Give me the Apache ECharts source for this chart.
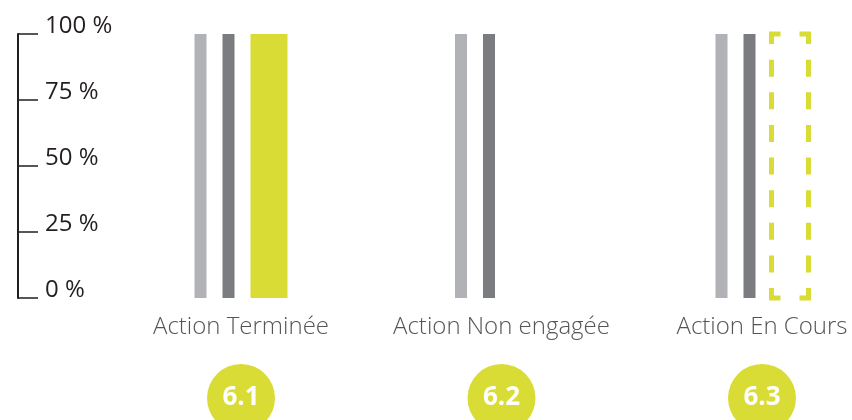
<!DOCTYPE html>
<html>
<head>
<meta charset="utf-8">
<script src="https://cdn.jsdelivr.net/npm/echarts@6/dist/echarts.min.js"></script>
<style>
html,body{margin:0;padding:0;background:#fff;}
#chart{width:852px;height:420px;}
</style>
</head>
<body>
<div id="chart"></div>
<script>
// ---- data ----
var categories = ['Action Terminée', 'Action Non engagée', 'Action En Cours'];
var codes = ['6.1', '6.2', '6.3'];
var lightValues = [100, 100, 100];
var darkValues = [100, 100, 100];
var statusValues = [100, null, 100];
var statusInProgress = [false, false, true];
var yTicks = [0, 25, 50, 75, 100];

// ---- styles / layout constants ----
var LIGHT = '#b1b2b5', DARK = '#7b7c80', YELLOW = '#d9dc35';
var THIN_W = 12, STATUS_W = 37, GAP_PX = 16, DASH_W = 5;
var GROUP_W = THIN_W * 2 + STATUS_W + GAP_PX * 2;
var STATUS_OFFSET = -GROUP_W / 2 + THIN_W * 2 + GAP_PX * 2;

var solidStatus = statusValues.map(function (v, i) {
  return (v === null || statusInProgress[i]) ? '-' : v;
});
var dashedStatus = [];
statusValues.forEach(function (v, i) {
  if (v !== null && statusInProgress[i]) dashedStatus.push([i, v]);
});

// dash array with a corner piece at both ends of a segment
function cornerDash(len, corner, dash, gap) {
  var k = Math.max(0, Math.round((len - 2 * corner - gap) / (dash + gap)));
  var g = (len - 2 * corner - k * dash) / (k + 1);
  var arr = [corner];
  for (var i = 0; i < k; i++) { arr.push(g, dash); }
  arr.push(g, corner);
  return arr;
}

var chart = echarts.init(document.getElementById('chart'));
chart.setOption({
  animation: false,
  grid: { left: 241, right: 90, top: 34, bottom: 122, containLabel: false, outerBoundsMode: 'none' },
  xAxis: {
    type: 'category',
    data: categories,
    boundaryGap: false,
    axisLine: { show: false },
    axisTick: { show: false },
    axisLabel: {
      margin: 16,
      interval: 0,
      hideOverlap: false,
      formatter: function (val, idx) {
        return '{t|' + val + '}\n{s| }\n{c|' + codes[idx] + '}';
      },
      rich: {
        t: { fontFamily: 'Open Sans', fontWeight: 300, fontSize: 24, color: '#555558', lineHeight: 26 },
        s: { fontSize: 1, lineHeight: 24 },
        c: {
          fontFamily: 'Open Sans', fontWeight: 'bold', fontSize: 26, color: '#fff',
          backgroundColor: YELLOW, width: 68, height: 68, lineHeight: 68,
          borderRadius: 34, align: 'center'
        }
      }
    }
  },
  yAxis: {
    type: 'value',
    min: yTicks[0],
    max: yTicks[yTicks.length - 1],
    interval: 25,
    offset: 223,
    axisLine: { show: true, lineStyle: { color: '#231f20', width: 2 } },
    axisTick: { show: true, inside: true, length: 20, lineStyle: { color: '#231f20', width: 1.5 } },
    splitLine: { show: false },
    axisLabel: {
      inside: true,
      margin: 27,
      verticalAlign: 'bottom',
      lineHeight: 16,
      fontFamily: 'Open Sans',
      fontSize: 24,
      color: '#231f20',
      formatter: function (v) { return v + ' %'; }
    }
  },
  series: [
    { type: 'bar', data: lightValues, barWidth: THIN_W, barGap: (GAP_PX / THIN_W * 100) + '%', itemStyle: { color: LIGHT }, clip: false },
    { type: 'bar', data: darkValues, barWidth: THIN_W, barGap: (GAP_PX / THIN_W * 100) + '%', itemStyle: { color: DARK }, clip: false },
    { type: 'bar', data: solidStatus, barWidth: STATUS_W, barGap: (GAP_PX / THIN_W * 100) + '%', itemStyle: { color: YELLOW }, clip: false },
    {
      type: 'custom',
      data: dashedStatus,
      clip: false,
      silent: true,
      renderItem: function (params, api) {
        var cat = api.value(0), v = api.value(1);
        var top = api.coord([cat, v]);
        var bottom = api.coord([cat, 0]);
        var x0 = top[0] + STATUS_OFFSET, x1 = x0 + STATUS_W;
        var y0 = top[1], y1 = bottom[1];
        var half = DASH_W / 2;
        var hLen = (x1 - x0) + DASH_W;
        var vLen = y1 - y0;
        var hDash = cornerDash(hLen, 9 + half, 17, 16);
        var vDash = cornerDash(vLen, 10, 17, 16);
        function seg(ax, ay, bx, by, dash) {
          return {
            type: 'line',
            shape: { x1: ax, y1: ay, x2: bx, y2: by },
            style: { stroke: YELLOW, lineWidth: DASH_W, lineDash: dash, lineCap: 'butt', fill: null }
          };
        }
        return {
          type: 'group',
          children: [
            seg(x0 - half, y0, x1 + half, y0, hDash),
            seg(x0 - half, y1, x1 + half, y1, hDash),
            seg(x0, y0, x0, y1, vDash),
            seg(x1, y0, x1, y1, vDash)
          ]
        };
      }
    }
  ]
});
</script>
</body>
</html>
